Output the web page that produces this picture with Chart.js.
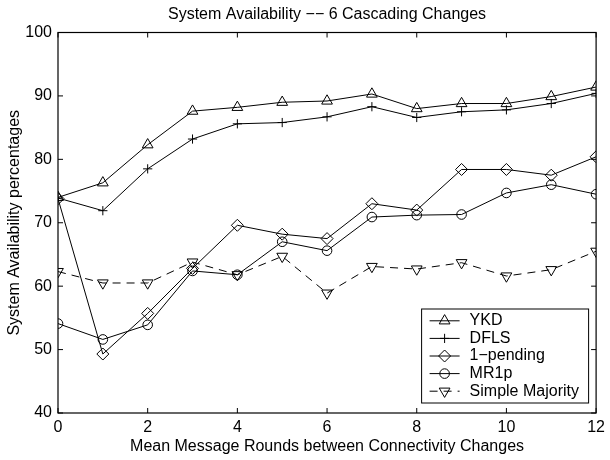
<!DOCTYPE html>
<html>
<head>
<meta charset="utf-8">
<script src="https://cdn.jsdelivr.net/npm/chart.js@4/dist/chart.umd.min.js"></script>
<style>
  html, body { margin: 0; padding: 0; background: #fff; }
  #c { display: block; }
</style>
</head>
<body>
<canvas id="c" width="610" height="460"></canvas>
<script>
// Mean message rounds between connectivity changes
const rounds = [0, 1, 2, 3, 4, 5, 6, 7, 8, 9, 10, 11, 12];

// Availability (%) per protocol
const ykd           = [74.0, 76.3, 82.3, 87.6, 88.2, 89.0, 89.2, 90.3, 88.0, 88.8, 88.8, 89.9, 91.4];
const dfls          = [73.9, 71.9, 78.5, 83.2, 85.6, 85.8, 86.7, 88.3, 86.6, 87.5, 87.8, 88.8, 90.4];
const onePending    = [73.8, 49.3, 55.7, 62.8, 69.6, 68.2, 67.5, 73.0, 72.0, 78.4, 78.4, 77.5, 80.4];
const mr1p          = [54.1, 51.6, 53.9, 62.4, 61.8, 67.0, 65.6, 70.9, 71.2, 71.3, 74.7, 76.0, 74.5];
const simpleMajority= [62.3, 60.5, 60.5, 63.8, 61.8, 64.7, 58.9, 63.1, 62.7, 63.7, 61.6, 62.6, 65.5];

const seriesNames = ['YKD', 'DFLS', '1\u2212pending', 'MR1p', 'Simple Majority'];

const xTicks = [0, 2, 4, 6, 8, 10, 12];
const yTicks = [40, 50, 60, 70, 80, 90, 100];

const FONT = "'Liberation Sans', Arial, Helvetica, sans-serif";
Chart.defaults.font.family = FONT;
Chart.defaults.font.size = 16;
Chart.defaults.color = '#000';

const toPoints = (ys) => ys.map((y, i) => ({ x: rounds[i], y }));

const markerStyles = [
  { pointStyle: 'triangle', radius: 6.2, rotation: 0 },
  { pointStyle: 'cross',    radius: 4.6, rotation: 0 },
  { pointStyle: 'rectRot',  radius: 6.0, rotation: 0 },
  { pointStyle: 'circle',   radius: 4.8, rotation: 0 },
  { pointStyle: 'triangle', radius: 6.2, rotation: 180 }
];
const dashes = [[], [], [], [], [8, 6]];
const seriesValues = [ykd, dfls, onePending, mr1p, simpleMajority];

const datasets = seriesValues.map((vals, i) => ({
  label: seriesNames[i],
  data: toPoints(vals),
  borderColor: '#000',
  borderWidth: 1,
  borderDash: dashes[i],
  backgroundColor: 'rgba(0,0,0,0)',
  pointStyle: markerStyles[i].pointStyle,
  pointRadius: markerStyles[i].radius,
  pointRotation: markerStyles[i].rotation,
  pointBorderColor: '#000',
  pointBackgroundColor: 'rgba(0,0,0,0)',
  pointBorderWidth: 1,
  pointHoverRadius: markerStyles[i].radius,
  tension: 0,
  fill: false
}));

// Axes box with inward tick marks on all four sides
const boxPlugin = {
  id: 'boxTicks',
  afterDatasetsDraw(chart) {
    const { ctx, chartArea: a, scales } = chart;
    const len = 5;
    ctx.save();
    ctx.strokeStyle = '#000';
    ctx.lineWidth = 1.2;
    ctx.setLineDash([]);
    ctx.strokeRect(a.left, a.top, a.right - a.left, a.bottom - a.top);
    ctx.lineWidth = 1;
    ctx.beginPath();
    xTicks.forEach(v => {
      const px = scales.x.getPixelForValue(v);
      ctx.moveTo(px, a.bottom); ctx.lineTo(px, a.bottom - len);
      ctx.moveTo(px, a.top);    ctx.lineTo(px, a.top + len);
    });
    yTicks.forEach(v => {
      const py = scales.y.getPixelForValue(v);
      ctx.moveTo(a.left, py);  ctx.lineTo(a.left + len, py);
      ctx.moveTo(a.right, py); ctx.lineTo(a.right - len, py);
    });
    ctx.stroke();
    ctx.restore();
  }
};

// Boxed legend inside the lower-right corner of the plot
const legendPlugin = {
  id: 'boxLegend',
  afterDraw(chart) {
    const { ctx, chartArea: a } = chart;
    const w = 167, rowH = 17.6;
    const h = rowH * datasets.length + 6;
    const right = a.right - 7.5;
    const bottom = a.bottom - 10;
    const left = right - w, top = bottom - h;
    ctx.save();
    ctx.fillStyle = '#fff';
    ctx.fillRect(left, top, w, h);
    ctx.strokeStyle = '#000';
    ctx.lineWidth = 1;
    ctx.strokeRect(left, top, w, h);
    ctx.font = '16px ' + FONT;
    ctx.textBaseline = 'middle';
    ctx.textAlign = 'left';
    datasets.forEach((ds, i) => {
      const cy = top + 11.8 + i * rowH;
      ctx.setLineDash(ds.borderDash);
      ctx.beginPath();
      ctx.moveTo(left + 8, cy);
      ctx.lineTo(left + 38, cy);
      ctx.stroke();
      ctx.setLineDash([]);
      ctx.fillStyle = 'rgba(0,0,0,0)';
      ctx.strokeStyle = '#000';
      ctx.lineWidth = 1;
      Chart.helpers.drawPoint(ctx, {
        pointStyle: ds.pointStyle,
        radius: ds.pointRadius,
        rotation: ds.pointRotation,
        borderWidth: 1
      }, left + 23, cy);
      ctx.fillStyle = '#000';
      ctx.fillText(ds.label, left + 48, cy);
    });
    ctx.restore();
  }
};

new Chart(document.getElementById('c'), {
  type: 'line',
  data: { datasets },
  options: {
    responsive: false,
    animation: false,
    devicePixelRatio: 1,
    layout: { padding: { left: 0, right: 9, top: 0, bottom: 0 } },
    plugins: {
      legend: { display: false },
      tooltip: { enabled: false },
      title: { display: false }
    },
    scales: {
      x: {
        type: 'linear',
        min: 0, max: 12,
        afterBuildTicks: s => { s.ticks = xTicks.map(v => ({ value: v })); },
        ticks: { padding: 5, font: { size: 16 }, color: '#000' },
        grid: { display: false, drawTicks: false },
        border: { display: false },
        title: {
          display: true,
          text: 'Mean Message Rounds between Connectivity Changes',
          font: { size: 16 },
          color: '#000',
          padding: { top: 0, bottom: 3.4 }
        },
        afterFit: s => { s.height = 47; }
      },
      top: {
        type: 'linear',
        position: 'top',
        min: 0, max: 12,
        ticks: { display: false },
        grid: { display: false, drawTicks: false },
        border: { display: false },
        title: {
          display: true,
          text: 'System Availability \u2212\u2212 6 Cascading Changes',
          font: { size: 16 },
          color: '#000',
          padding: { top: 5.4, bottom: 0 }
        },
        afterFit: s => { s.height = 32.5; }
      },
      y: {
        type: 'linear',
        min: 40, max: 100,
        afterBuildTicks: s => { s.ticks = yTicks.map(v => ({ value: v })); },
        ticks: { padding: 6, font: { size: 16 }, color: '#000' },
        grid: { display: false, drawTicks: false },
        border: { display: false },
        title: {
          display: true,
          text: 'System Availability percentages',
          font: { size: 16 },
          color: '#000',
          padding: { top: 4.6, bottom: 0 }
        },
        afterFit: s => { s.width = 58; }
      }
    }
  },
  plugins: [boxPlugin, legendPlugin]
});
</script>
</body>
</html>
